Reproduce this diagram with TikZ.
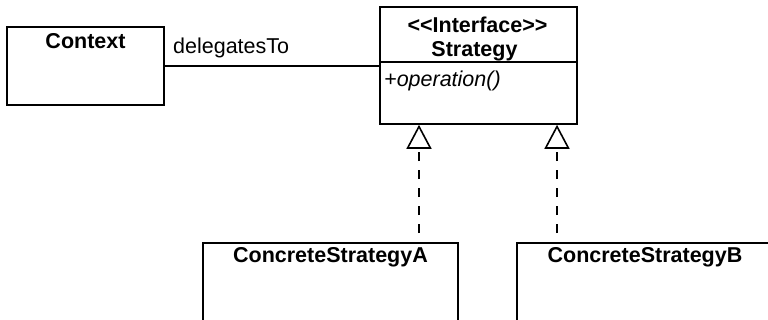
\documentclass[tikz,border=0pt]{standalone}
\usepackage{fontspec}
\setmainfont{Liberation Sans}
\usetikzlibrary{arrows.meta,positioning}

\tikzset{
    classbox/.style={draw, line width=1.6pt, rectangle, inner sep=0pt},
    classname/.style={font=\fontsize{21.5}{25}\selectfont\bfseries, anchor=base, inner sep=0pt},
    member/.style={font=\fontsize{21.5}{25}\selectfont, anchor=base west, inner sep=0pt},
    assoc/.style={line width=1.6pt},
    realizes/.style={line width=1.6pt, dash pattern=on 9pt off 9pt, dash phase=9pt,
        -{Triangle[open, width=25pt, length=24pt, line width=1.6pt]}},
}

\begin{document}
\begin{tikzpicture}[x=1pt,y=-1pt]

    \useasboundingbox (0,0) rectangle (768,320);
    \clip (0,0) rectangle (768,320);

    % classes
    \node[classbox, minimum width=157pt, minimum height=78pt]  (context)  at (85.5,66)   {};
    \node[classbox, minimum width=197pt, minimum height=117pt] (strategy) at (478.5,65.5) {};
    \node[classbox, minimum width=255pt, minimum height=110pt] (conA)     at (330.5,298)  {};
    \node[classbox, minimum width=256pt, minimum height=110pt] (conB)     at (645,298)    {};

    \node[classname] (contextname)   at (85.5,49)  {Context};
    \node[classname] (stereotype)    at (477.5,33) {<{}<Interface>{}>};
    \node[classname] (strategyname)  at (474.5,57) {Strategy};
    \node[classname] (conAname)      at (330.5,263) {ConcreteStrategyA};
    \node[classname] (conBname)      at (645,263)   {ConcreteStrategyB};
    \node[member, font=\fontsize{21.5}{25}\selectfont\itshape] (operation) at (384,87) {+operation()};

    % compartment line
    \coordinate (divider) at (0,62);
    \draw[assoc] (strategy.west |- divider) -- (strategy.east |- divider);

    % association
    \draw[assoc] (context.east) -- (context.east -| strategy.west);
    \node[member] (assoclabel) at (173,54) {delegatesTo};

    % realizations
    \foreach \name/\x in {conA/419,conB/557}{
        \coordinate (real\name) at (\x,0);
        \draw[realizes] (\name.north -| real\name) -- (strategy.south -| real\name);
    }
\end{tikzpicture}
\end{document}
